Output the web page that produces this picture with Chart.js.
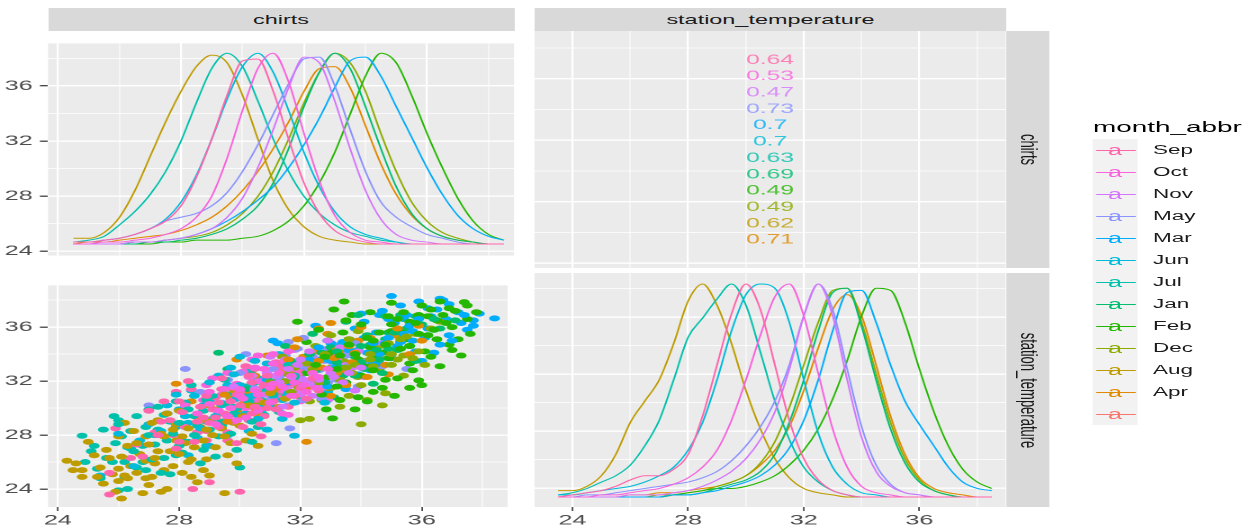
<!DOCTYPE html>
<html><head><meta charset="utf-8">
<script src="https://cdn.jsdelivr.net/npm/chart.js@4.4.1/dist/chart.umd.min.js"></script>
<style>
html,body{margin:0;padding:0;background:#fff;overflow:hidden;}
body{width:1255px;height:529px;position:relative;font-family:"Liberation Sans",Arial,sans-serif;}
#stage{position:absolute;left:0;top:0;height:529px;transform-origin:0 0;}
#stage > *{position:absolute;}
.strip{background:#D9D9D9;color:#1A1A1A;font-size:13px;display:flex;align-items:center;justify-content:center;white-space:nowrap;overflow:visible;}
.vtext{transform:rotate(90deg);display:inline-block;}
.lrow{position:absolute;left:0;width:100%;height:22px;}
</style></head><body><div id="stage"></div>
<script>
// ---------------- data ----------------
const months = ["Sep","Oct","Nov","May","Mar","Jun","Jul","Jan","Feb","Dec","Aug","Apr"];
const monthColors = ["#FF65AC","#F962DD","#D575FE","#8B93FF","#00ACFC","#00BBDA","#00C1AB","#00BE70","#24B700","#8CAB00","#BE9C00","#E18A00"];
const blankLevelColor = "#F8766D";
const corrLabels = ["0.64","0.53","0.47","0.73","0.7","0.7","0.63","0.69","0.49","0.49","0.62","0.71"];
const stripCols = ["chirts","station_temperature"];
const tickLabelsMajor = [24,28,32,36];

const chirtsGrid = [24.5,25,25.5,26,26.5,27,27.5,28,28.5,29,29.5,30,30.5,31,31.5,32,32.5,33,33.5,34,34.5,35,35.5,36,36.5,37,37.5,38,38.5];
const stationGrid = [23.5,24,24.5,25,25.5,26,26.5,27,27.5,28,28.5,29,29.5,30,30.5,31,31.5,32,32.5,33,33.5,34,34.5,35,35.5,36,36.5,37,37.5,38,38.5];

// chirts density (scaled 0..1) per month
const chDenSep = [.01,.01,.02,.03,.05,.08,.12,.2,.35,.55,.78,.96,.97,.8,.55,.32,.16,.07,.03,.01,0,0,0,0,0,0,0,0,0];
const chDenOct = [0,0,.01,.01,.02,.03,.05,.08,.14,.25,.45,.7,.92,1.0,.85,.58,.33,.15,.06,.02,.01,0,0,0,0,0,0,0,0];
const chDenNov = [0,0,0,0,.01,.01,.02,.03,.05,.08,.14,.24,.4,.6,.82,.98,.95,.75,.5,.28,.13,.05,.02,.01,0,0,0,0,0];
const chDenMay = [.01,.01,.02,.03,.05,.08,.12,.14,.16,.2,.27,.38,.52,.68,.84,.97,.98,.83,.6,.38,.22,.14,.09,.05,.03,.01,0,0,0];
const chDenMar = [0,0,0,0,.01,.01,.02,.03,.05,.08,.12,.17,.23,.3,.4,.52,.66,.82,.96,.98,.88,.72,.56,.4,.26,.15,.08,.04,.02];
const chDenJun = [.01,.01,.02,.03,.05,.08,.13,.22,.36,.55,.76,.93,1.0,.9,.7,.48,.3,.17,.09,.05,.03,.01,0,0,0,0,0,0,0];
const chDenJul = [.01,.02,.04,.1,.17,.26,.38,.54,.74,.92,1.0,.93,.75,.55,.38,.25,.16,.1,.06,.04,.02,.01,0,0,0,0,0,0,0];
const chDenJan = [0,0,0,0,0,.01,.01,.02,.03,.05,.08,.13,.2,.32,.5,.72,.9,1.0,.92,.72,.5,.3,.16,.08,.04,.02,.01,0,0];
const chDenFeb = [0,0,0,0,0,0,.01,.01,.02,.02,.02,.03,.04,.07,.12,.2,.32,.48,.68,.88,1.0,.95,.78,.58,.4,.24,.12,.05,.02];
const chDenDec = [0,0,0,0,.01,.01,.02,.03,.04,.06,.1,.16,.25,.38,.55,.74,.9,1.0,.95,.8,.58,.38,.22,.12,.06,.03,.01,0,0];
const chDenAug = [.03,.03,.06,.14,.28,.46,.64,.8,.93,.99,.95,.78,.55,.33,.18,.09,.04,.02,.01,0,0,0,0,0,0,0,0,0,0];
const chDenApr = [0,.01,.01,.02,.03,.04,.05,.07,.1,.14,.2,.28,.38,.5,.64,.8,.92,.93,.82,.62,.42,.26,.15,.08,.04,.02,.01,0,0];

// station_temperature density (scaled 0..1) per month
const stDenSep = [0,.01,.02,.03,.05,.08,.1,.1,.13,.2,.38,.62,.86,1.0,.88,.62,.36,.18,.08,.03,.01,0,0,0,0,0,0,0,0,0,0];
const stDenOct = [0,0,0,.01,.01,.02,.03,.04,.06,.09,.14,.22,.36,.55,.76,.94,1.0,.85,.58,.32,.14,.05,.02,.01,0,0,0,0,0,0,0];
const stDenNov = [0,0,0,0,0,.01,.01,.01,.02,.03,.05,.08,.12,.18,.27,.4,.6,.85,1.0,.85,.55,.28,.12,.05,.02,.01,0,0,0,0,0];
const stDenMay = [0,0,.01,.01,.02,.03,.04,.05,.06,.07,.09,.12,.17,.24,.33,.45,.62,.85,1.0,.88,.6,.33,.15,.06,.02,.01,0,0,0,0,0];
const stDenMar = [0,0,0,0,0,0,0,0,.01,.01,.02,.03,.05,.07,.1,.15,.23,.36,.55,.78,.96,.97,.82,.62,.45,.34,.24,.14,.07,.04,.03];
const stDenJun = [.01,.01,.02,.03,.04,.05,.07,.1,.14,.22,.35,.55,.78,.95,1.0,.98,.82,.55,.3,.14,.06,.02,.01,0,0,0,0,0,0,0,0];
const stDenJul = [.01,.02,.04,.07,.1,.15,.24,.36,.55,.75,.84,.93,1.0,.9,.68,.45,.27,.14,.07,.03,.01,0,0,0,0,0,0,0,0,0,0];
const stDenJan = [0,0,0,0,0,0,0,0,.01,.01,.02,.04,.06,.08,.12,.2,.35,.55,.78,.96,.98,.8,.55,.32,.16,.07,.03,.01,0,0,0];
const stDenFeb = [0,0,0,0,0,0,0,0,.01,.02,.03,.04,.04,.05,.07,.1,.15,.22,.32,.46,.64,.85,.98,.97,.82,.6,.4,.24,.13,.07,.04];
const stDenDec = [0,0,0,0,0,0,0,.01,.01,.02,.03,.05,.07,.1,.16,.26,.42,.62,.82,.97,.98,.82,.58,.35,.18,.08,.03,.01,0,0,0];
const stDenAug = [.03,.03,.05,.1,.2,.35,.45,.55,.72,.92,1.0,.9,.72,.5,.32,.18,.09,.04,.02,.01,0,0,0,0,0,0,0,0,0,0,0];
const stDenApr = [0,0,0,0,0,.01,.01,.02,.02,.03,.04,.05,.07,.1,.15,.22,.33,.5,.7,.88,.95,.85,.62,.38,.2,.09,.04,.02,.01,0,0];

// scatter points [chirts, station_temperature]
const ptsSep = [[25.7,23.6],[28.45,24.0],[29.0,24.5],[30.0,23.8],[25.7,25.2],[25.9,28.5],[28.3,32.0],[28.4,31.4],[27.5,30.5],[28.2,28.6],[28.8,29.3],[29.2,30.8],[29.5,29.6],[29.8,31.5],[30.0,30.2],[30.3,29.1],[30.4,31.9],[30.6,30.6],[30.9,32.4],[31.0,31.2],[31.2,29.9],[31.5,32.0],[31.8,30.9],[29.6,28.2],[30.7,28.8],[31.3,33.0],[32.0,31.5],[28.9,27.6],[27.9,27.0],[29.4,32.2],[30.2,33.1],[31.9,32.8],[32.4,32.2],[27.4,29.0],
  [29.1,29.9],[29.3,28.6],[29.7,30.5],[30.1,29.4],[30.5,30.1],[30.8,29.4],[29.9,31.0],[30.6,31.4],[31.1,30.5],[31.4,31.3],[29.0,28.9],[28.6,28.2],[28.7,30.1],[29.4,31.4],[30.3,32.4],[31.6,30.1],[32.2,30.7],[27.8,28.0],[28.1,29.7],[29.6,27.6],[30.9,30.0],[31.7,31.8],[29.2,29.3],[30.5,32.9],[28.9,30.9],[27.2,28.2],[30.1,28.6],[31.2,33.4],[32.6,31.3],[29.8,29.0],[28.5,27.5],[27.0,27.3],[30.7,27.9],[26.8,26.4],[28.0,30.5],
  [26.6,27.3],[27.3,28.0],[27.7,29.1],[28.0,27.5],[28.3,29.9],[28.6,29.0],[28.9,28.3],[29.3,30.4],[29.6,29.3],[30.0,31.2],[30.4,29.6],[30.8,31.7],[31.2,30.9],[27.0,29.8],[26.4,26.3],[29.9,27.4],[27.9,31.2]];
const ptsOct = [[29.0,30.3],[29.4,31.0],[29.7,30.0],[29.9,31.8],[30.1,30.7],[30.3,32.3],[30.5,31.3],[30.6,29.8],[30.8,32.9],[30.9,31.0],[31.0,30.4],[31.2,32.0],[31.4,31.6],[31.5,33.4],[31.7,30.9],[31.9,32.5],[32.1,31.7],[32.3,33.0],[30.2,29.3],[29.6,32.6],[28.6,29.6],[31.6,29.5],[32.6,32.3],[30.4,33.6],[31.1,34.0],[28.9,31.7],[29.2,28.8],[32.8,33.6],[30.0,30.9],[31.3,30.7],
  [30.0,31.4],[30.3,30.1],[30.6,31.0],[30.7,32.0],[31.0,31.5],[31.2,30.8],[31.3,32.6],[31.5,31.2],[31.8,31.9],[32.0,30.5],[30.5,33.0],[29.8,30.6],[29.3,29.8],[29.5,31.4],[32.4,32.6],[31.9,33.3],[31.1,33.3],[30.1,32.7],[32.2,31.2],[30.8,30.1],[29.9,29.1],[28.8,30.6],[32.9,32.9],[33.2,33.8],[31.6,34.2],[29.1,32.2],[31.4,29.6],[30.2,30.0],[31.7,32.4],[30.9,32.2],
  [29.6,29.4],[30.4,30.6],[31.1,31.8],[31.8,32.9],[29.0,31.2],[30.6,33.9],[32.5,31.5],[28.2,30.2]];
const ptsNov = [[30.5,31.4],[30.9,32.6],[31.3,31.9],[31.5,33.1],[31.7,32.3],[31.9,31.2],[32.0,33.6],[32.2,32.7],[32.3,31.8],[32.5,33.3],[32.6,32.1],[32.8,34.0],[33.0,32.6],[33.2,33.5],[33.4,31.9],[33.7,33.0],[31.1,30.5],[31.8,34.3],[30.2,33.1],[33.9,34.2],[32.4,30.9],[34.3,33.4],[29.8,31.6],[32.9,35.0],[31.4,30.1],[32.7,32.9],[31.0,33.8],[34.1,32.3],
  [31.2,32.4],[31.6,31.6],[32.1,32.1],[32.4,33.0],[32.0,31.0],[32.7,31.5],[33.1,32.3],[33.5,33.2],[32.3,34.2],[31.5,33.6],[30.8,31.0],[33.3,34.5],[34.0,33.0],[32.9,30.6],[31.9,33.2],[30.6,32.0],[33.8,31.3],[34.5,34.0],
  [31.6,32.9],[32.6,33.6],[33.6,32.6],[31.2,31.3],[30.4,32.4],[34.7,34.8]];
const ptsMay = [[28.2,32.9],[27.0,30.2],[31.2,27.4],[31.65,28.5],[32.1,35.2],[35.5,32.9],[30.2,34.0],[30.8,31.9],[31.1,32.9],[31.4,31.3],[31.7,33.4],[32.0,32.4],[32.2,31.5],[32.4,33.8],[32.6,32.8],[32.9,31.9],[33.1,33.3],[33.4,32.6],[33.6,34.1],[31.0,30.6],[30.5,33.0],[33.9,31.6],[34.2,33.5],[29.9,31.2],[32.7,30.7],[33.3,34.7],[31.9,34.4],[34.5,34.3],
  [31.3,32.3],[31.8,31.8],[32.3,32.9],[32.5,31.6],[32.8,33.5],[31.5,33.9],[30.9,33.3],[33.2,32.1],[33.6,33.2],[30.4,31.7],[32.1,30.6],[31.0,31.3],[33.8,34.8],[29.4,30.4],[34.7,33.1],[32.9,34.4],[30.0,32.6],[31.6,34.9],
  [30.3,30.6],[31.2,31.9],[32.0,33.1],[32.8,32.2],[33.5,33.9],[29.6,32.1],[28.7,31.2],[31.6,30.2]];
const ptsMar = [[35.0,38.3],[36.6,38.1],[38.4,36.65],[37.7,36.5],[37.7,36.1],[32.5,36.1],[31.1,35.0],[31.25,34.8],[35.4,35.5],[36.2,37.4],[37.0,35.0],[34.9,36.6],[35.6,36.1],[36.4,35.8],[33.6,34.3],[34.1,35.2],[34.6,34.0],[35.2,34.6],[33.2,33.1],[33.9,32.5],[34.4,33.4],[32.8,32.2],[35.8,34.2],[36.8,36.6],[32.3,33.6],[33.0,34.8],[34.0,37.0],[36.0,33.5],[31.6,31.9],[35.3,37.6],[37.2,37.1],[33.5,31.4],
  [34.5,35.6],[35.1,36.3],[35.7,35.0],[36.3,36.8],[36.9,35.4],[34.2,34.1],[34.8,34.8],[33.8,35.9],[35.5,36.9],[37.3,36.3],[36.6,34.7],[33.4,34.9],[34.7,37.2],[37.9,37.0],[36.1,35.2],[35.0,33.7],[33.0,33.5],[34.3,32.8],[32.6,34.5],[36.9,37.7],[37.5,35.8],[35.9,37.9],[34.1,36.4],[33.7,32.6],[32.9,31.6],[36.4,34.1],[35.3,34.9],[34.6,36.9],
  [34.9,35.2],[35.4,36.6],[35.9,36.6],[36.5,37.3],[34.4,34.8],[33.9,34.3],[35.7,35.7],[36.2,35.9],[37.4,36.9],[33.5,33.9],[34.6,33.3],[32.0,33.0],[30.9,32.1],[36.7,38.0]];
const ptsJun = [[31.8,27.95],[28.3,28.9],[28.8,30.2],[29.2,29.4],[29.5,31.0],[29.8,30.1],[30.0,31.7],[30.2,29.6],[30.4,30.9],[30.6,32.2],[30.8,30.3],[31.0,31.5],[31.2,29.9],[31.4,32.6],[31.6,31.1],[31.9,32.0],[32.2,30.7],[32.5,31.9],[29.0,31.9],[30.3,28.3],[33.0,32.9],[27.6,29.6],[29.7,33.0],[31.3,34.0],[32.8,30.4],[28.6,27.8],[30.9,33.3],[33.3,34.6],[27.9,31.0],
  [29.4,30.2],[29.9,30.7],[30.1,30.3],[30.5,31.4],[30.7,29.7],[31.1,30.9],[31.5,31.8],[29.6,29.0],[28.9,29.0],[28.5,30.9],[30.3,32.8],[31.8,30.4],[32.1,31.6],[32.4,32.6],[29.3,32.4],[27.4,28.3],[28.1,27.6],[29.6,28.0],[31.4,29.2],[30.0,33.8],[33.5,33.4],[32.7,33.6],[28.0,29.9],[27.0,28.8],[26.7,27.6],[30.9,28.4],[32.9,31.2],[29.0,27.2],
  [27.2,28.0],[27.6,30.2],[27.9,28.6],[28.2,29.4],[28.4,31.3],[28.7,28.5],[29.0,30.6],[29.3,29.6],[29.6,31.7],[29.9,29.5],[30.2,30.8],[30.6,29.2],[31.0,30.2],[31.4,30.6],[26.4,27.0],[26.0,28.1],[25.4,25.0],[26.5,25.7],[28.3,26.5],[29.8,32.5],[31.9,33.3],[30.5,33.5]];
const ptsJul = [[24.8,27.95],[25.3,25.5],[25.4,24.8],[25.85,29.4],[26.3,24.0],[26.1,27.9],[26.5,26.8],[26.9,28.6],[27.2,27.3],[27.5,29.5],[27.8,28.1],[28.1,26.7],[28.3,29.9],[28.6,28.7],[28.9,30.6],[29.1,29.2],[29.3,27.9],[29.6,31.0],[29.9,30.0],[30.2,31.6],[30.4,29.0],[30.7,30.6],[31.0,32.0],[31.3,30.9],[30.0,25.6],[29.2,26.4],[27.0,29.9],[32.0,31.4],[28.4,31.7],[26.6,25.6],[31.6,33.2],
  [25.6,26.3],[25.9,27.4],[26.2,26.0],[26.4,28.3],[26.8,27.2],[27.1,26.2],[27.3,28.4],[27.6,27.6],[27.9,26.5],[28.0,28.9],[28.3,27.5],[28.5,29.4],[28.8,26.9],[29.0,28.4],[29.4,29.0],[29.7,28.1],[30.0,29.4],[30.3,30.5],[30.6,28.6],[30.9,31.3],[29.5,32.1],[27.4,25.2],[26.0,29.1],[28.7,25.9],[31.3,29.7],[25.1,26.8],[30.5,31.9],[31.8,32.4],[26.9,25.4],[29.9,26.9],[32.3,33.0],[27.9,30.5],
  [25.2,27.2],[25.5,28.4],[25.8,26.0],[26.0,28.8],[26.3,27.1],[26.6,29.4],[26.8,26.0],[27.0,28.0],[27.3,30.1],[27.5,26.3],[27.7,29.0],[28.0,27.2],[28.2,30.4],[28.5,28.0],[28.8,29.8],[29.1,30.9],[29.4,28.7],[29.8,29.6],[30.1,30.9],[30.4,27.5],[26.2,24.9],[27.7,25.1],[28.9,27.2],[29.5,30.3],[24.9,26.0],[26.0,23.9],[30.8,29.5],[31.1,31.0]];
const ptsJan = [[29.3,34.1],[31.3,32.1],[31.7,33.5],[32.0,32.6],[32.3,34.0],[32.6,33.0],[32.8,31.9],[33.0,34.5],[33.2,33.4],[33.4,32.4],[33.6,35.1],[33.8,33.8],[34.1,32.9],[34.3,34.7],[34.6,33.6],[34.9,35.6],[35.2,34.3],[35.5,35.9],[31.9,30.9],[33.1,30.8],[34.4,31.8],[32.4,35.5],[35.8,33.5],[30.8,31.4],[36.2,35.4],[33.5,36.4],[31.5,34.6],[34.8,36.8],
  [32.5,32.8],[33.0,33.9],[33.3,33.0],[33.7,34.2],[34.0,33.4],[34.2,35.4],[34.5,34.3],[34.8,35.1],[35.1,35.6],[32.2,33.2],[31.8,32.3],[33.4,31.7],[35.6,34.6],[36.0,36.2],[34.7,32.6],[32.9,35.0],[36.6,35.9],[35.3,36.9],[33.9,36.9],[32.6,31.4],[30.4,32.5],[37.1,36.5],
  [33.2,34.2],[33.6,33.0],[34.0,34.6],[34.4,34.0],[34.9,34.4],[35.3,35.3],[32.7,34.1],[32.1,31.4],[36.4,36.6],[35.8,36.8],[33.8,32.4],[31.2,33.3],[30.2,31.4],[29.6,32.9]];
const ptsFeb = [[37.4,37.85],[33.44,37.9],[33.1,37.3],[31.9,36.4],[33.8,29.9],[35.9,32.05],[34.2,30.5],[33.06,29.24],[32.85,29.9],[34.4,31.2],[35.1,30.9],[36.0,37.6],[37.6,35.5],[36.9,34.7],[32.5,33.2],[33.0,34.1],[33.4,35.6],[33.7,33.3],[34.0,36.2],[34.3,34.5],[34.6,35.6],[34.9,33.7],[35.2,36.6],[35.5,35.1],[35.8,36.3],[36.1,34.2],[36.4,35.8],[36.7,36.9],[37.0,36.0],[34.0,32.4],[34.8,32.1],[35.6,33.3],[33.2,31.6],[32.2,34.9],[37.3,33.9],[36.3,37.3],
  [34.2,35.2],[34.5,33.8],[34.8,34.7],[35.0,35.7],[35.3,34.4],[35.6,36.4],[35.9,35.5],[36.2,36.8],[36.5,35.1],[36.8,36.3],[37.1,37.2],[37.5,36.6],[33.6,34.7],[33.9,33.6],[33.3,33.9],[32.9,32.3],[33.5,36.5],[34.3,37.1],[35.4,37.1],[36.6,37.9],[37.8,37.1],[35.7,32.8],[36.3,33.8],[34.7,31.5],[33.9,30.8],[32.6,35.8],[37.0,34.3],[35.0,37.8],[32.7,31.0],[36.0,31.7],
  [33.2,32.9],[33.5,31.9],[33.8,34.0],[34.1,33.2],[34.4,35.0],[34.7,34.1],[35.0,36.2],[35.3,35.6],[35.6,34.6],[35.9,36.9],[36.2,35.4],[36.5,36.5],[36.9,37.4],[37.2,35.1],[34.4,32.8],[35.2,32.2],[36.6,33.1],[33.7,36.9],[32.8,33.8],[33.3,30.6],[35.6,31.5],[37.5,37.6],[34.9,36.8],[32.2,32.6]];
const ptsDec = [[34.0,28.8],[32.0,29.1],[32.3,29.2],[31.2,31.3],[31.6,32.5],[31.9,31.6],[32.2,33.3],[32.5,32.3],[32.8,34.0],[33.0,33.0],[33.3,32.1],[33.5,34.4],[33.8,33.2],[34.0,31.7],[34.3,34.0],[34.6,32.9],[34.9,34.8],[35.2,33.6],[35.5,35.3],[32.7,30.6],[33.6,30.9],[31.4,33.8],[35.9,34.2],[30.6,30.4],[36.3,35.9],[33.9,35.7],[34.8,31.1],[35.4,32.4],
  [32.4,32.8],[32.9,33.6],[33.2,32.8],[33.4,33.5],[33.7,32.6],[34.1,33.5],[34.4,33.1],[34.7,34.1],[35.0,33.2],[32.1,31.9],[31.8,33.0],[33.0,31.5],[35.3,35.1],[35.8,35.5],[33.6,35.1],[32.5,34.6],[31.0,31.9],[34.2,30.6],[36.1,33.2],[36.6,36.4],
  [32.6,31.9],[33.1,32.4],[33.5,33.0],[33.9,32.3],[34.3,33.6],[34.6,34.6],[35.0,34.0],[35.4,33.9],[31.7,31.2],[32.3,30.5],[33.3,30.1],[34.7,30.2],[35.7,33.7],[33.0,35.4],[31.5,32.0],[30.9,30.0]];
const ptsAug = [[24.3,26.1],[24.6,25.9],[24.8,24.9],[24.8,25.4],[26.8,23.7],[29.5,23.7],[27.6,24.0],[26.1,23.3],[25.2,26.5],[25.6,26.9],[26.2,25.0],[26.3,24.8],[26.0,25.5],[26.7,26.6],[27.0,27.3],[27.2,25.9],[27.4,28.1],[27.7,26.8],[27.9,27.6],[28.1,25.2],[28.3,28.5],[28.5,27.1],[28.7,29.1],[28.9,26.2],[29.1,28.0],[29.4,29.6],[29.7,27.4],[30.0,28.7],[30.3,30.2],[28.0,29.8],[26.5,28.3],[27.3,29.1],[29.0,25.0],[30.6,29.5],[31.0,31.1],[29.8,31.3],[26.9,24.8],[28.4,24.9],
  [25.4,25.6],[25.8,25.1],[26.1,26.4],[26.4,25.7],[26.6,27.4],[26.9,26.1],[27.1,24.9],[27.3,26.8],[27.5,27.9],[27.8,25.7],[28.0,26.6],[28.2,27.4],[28.4,26.2],[28.6,28.2],[28.8,27.6],[29.0,29.0],[29.2,27.1],[29.4,28.5],[29.6,26.5],[29.9,29.8],[27.6,29.6],[26.0,27.9],[25.5,24.4],[27.0,24.3],[28.8,25.4],[30.2,27.6],[30.8,30.4],[31.3,32.0],[30.4,28.1],[27.9,28.8],[25.0,27.5],[29.7,30.7],
  [25.3,24.9],[25.7,26.3],[26.0,24.6],[26.3,27.2],[26.6,25.2],[26.9,27.9],[27.2,26.3],[27.5,25.4],[27.8,28.4],[28.1,27.9],[28.3,26.0],[28.6,29.0],[28.9,28.4],[29.2,29.9],[29.5,27.9],[29.8,28.9],[30.1,29.4],[26.2,28.9],[27.1,28.9],[24.5,25.4],[25.9,23.8],[28.6,24.5],[29.9,25.9],[30.6,27.2],[31.5,30.7],[27.4,23.8]];
const ptsApr = [[27.9,31.8],[32.2,27.5],[29.0,30.2],[29.9,33.6],[30.5,32.4],[30.9,33.9],[31.2,31.5],[31.5,32.8],[31.8,34.5],[32.0,33.3],[32.3,31.9],[32.5,34.2],[32.7,33.0],[32.9,35.5],[33.2,32.6],[33.4,34.1],[33.7,33.4],[33.9,35.0],[34.2,32.3],[34.5,34.4],[34.8,33.2],[35.1,35.4],[33.0,30.9],[31.3,30.1],[35.6,34.0],[30.2,31.2],[34.0,36.0],[32.6,35.9],[36.0,35.0],[28.7,28.6],
  [31.0,32.0],[31.4,33.2],[31.7,32.5],[32.1,33.8],[32.4,32.9],[32.8,34.0],[33.1,33.7],[33.3,32.8],[33.6,34.6],[33.9,33.6],[34.3,35.2],[34.6,33.7],[32.2,31.5],[30.6,31.1],[31.9,35.1],[35.3,34.9],[33.5,31.7],[30.1,30.3],[35.9,36.1],[33.0,36.3],[29.5,31.0],[34.9,32.5],
  [31.6,33.6],[32.0,32.6],[32.6,33.5],[33.2,34.3],[33.8,34.1],[34.1,33.0],[31.1,31.1],[32.9,31.5],[35.2,35.9],[30.5,30.0],[29.6,29.0],[28.4,30.5]];

// ---------------- assembly ----------------
const chDens = [chDenSep,chDenOct,chDenNov,chDenMay,chDenMar,chDenJun,chDenJul,chDenJan,chDenFeb,chDenDec,chDenAug,chDenApr];
const stDens = [stDenSep,stDenOct,stDenNov,stDenMay,stDenMar,stDenJun,stDenJul,stDenJan,stDenFeb,stDenDec,stDenAug,stDenApr];
const pts = [ptsSep,ptsOct,ptsNov,ptsMay,ptsMar,ptsJun,ptsJul,ptsJan,ptsFeb,ptsDec,ptsAug,ptsApr];
const scatterTopOrder = ["Oct","Sep","Feb","Aug","Nov","Dec","Jul","Apr","Jan","Jun","Mar","May"];

const SX = 1.8; // horizontal stretch of the whole figure
const CH_MIN = 23.675, CH_MAX = 38.83;      // chirts as x
const CH_YMIN = 23.675, CH_YMAX = 39.09;    // chirts as y
const ST_MIN = 22.69, ST_MAX = 38.98;       // station as x
const ST_YMIN = 22.67, ST_YMAX = 39.09;     // station as y

Chart.defaults.font.family = "'Liberation Sans', Arial, sans-serif";
const stage = document.getElementById('stage');
stage.style.width = (1255 / SX) + 'px';
stage.style.transform = 'scale(' + SX + ',1)';

function place(el, xPage, y, wPage, h) {
  el.style.left = (xPage / SX) + 'px'; el.style.top = y + 'px';
  el.style.width = (wPage / SX) + 'px'; el.style.height = h + 'px';
  stage.appendChild(el); return el;
}

const panelBg = { id: 'panelBg', beforeDraw(chart) {
  const a = chart.chartArea, ctx = chart.ctx;
  ctx.save(); ctx.fillStyle = '#EBEBEB';
  ctx.fillRect(a.left, a.top, a.right - a.left, a.bottom - a.top); ctx.restore();
}};

const isMajor = c => c.tick && Math.abs(c.tick.value % 4) < 1e-6;

function axisX(min, max, labels) {
  return { type: 'linear', position: 'bottom', min, max,
    ticks: { display: labels, stepSize: 2, autoSkip: false, includeBounds: false, maxRotation: 0,
      callback: v => (tickLabelsMajor.includes(v) ? String(v) : ''), color: '#4D4D4D', font: { size: 14 }, padding: 1 },
    grid: { color: '#FFFFFF', lineWidth: c => isMajor(c) ? 1.1 : 0.5, drawTicks: labels, tickLength: 4,
      tickColor: c => isMajor(c) ? '#333333' : 'rgba(0,0,0,0)', tickWidth: 0.8 },
    border: { display: false },
    afterFit(s) { s.height = labels ? 22 : 0; } };
}
function axisY(min, max, labels) {
  return { type: 'linear', position: 'left', min, max,
    ticks: { display: labels, stepSize: 2, autoSkip: false, includeBounds: false,
      callback: v => (tickLabelsMajor.includes(v) ? String(v) : ''), color: '#4D4D4D', font: { size: 14 }, padding: 4 },
    grid: { color: '#FFFFFF', lineWidth: c => isMajor(c) ? 1.4 : 0.7, drawTicks: labels, tickLength: 4.5,
      tickColor: c => isMajor(c) ? '#333333' : 'rgba(0,0,0,0)', tickWidth: 1.2 },
    border: { display: false },
    afterFit(s) { s.width = labels ? 48 / SX : 0; } };
}

function makeChart(xPage, y, wPage, h, scales, datasets, extraPlugins) {
  const wl = wPage / SX, wi = Math.ceil(wl);
  const c = document.createElement('canvas');
  c.width = wi; c.height = h;
  c.style.left = (xPage / SX) + 'px'; c.style.top = y + 'px';
  stage.appendChild(c);
  return new Chart(c, { type: 'scatter', data: { datasets },
    options: { responsive: false, devicePixelRatio: 2, animation: false, events: [],
      layout: { padding: { left: 0, top: 0, bottom: 0, right: wi - wl } },
      plugins: { legend: { display: false }, tooltip: { enabled: false } }, scales },
    plugins: [panelBg].concat(extraPlugins || []) });
}

function densitySets(grid, dens) {
  return dens.map((vals, i) => ({ data: grid.map((x, j) => ({ x, y: vals[j] })), yAxisID: 'yd',
    showLine: true, pointRadius: 0, borderColor: monthColors[i], borderWidth: 1,
    cubicInterpolationMode: 'monotone', fill: false }));
}

// top-left: chirts density
makeChart(0, 31, 514, 237, {
  x: axisX(CH_MIN, CH_MAX, false), y: axisY(CH_YMIN, CH_YMAX, true),
  yd: { type: 'linear', display: false, min: -13 / 213, max: 1 + 11 / 213 } }, densitySets(chirtsGrid, chDens));

// bottom-right: station density
makeChart(535, 273, 471, 256, {
  x: axisX(ST_MIN, ST_MAX, true), y: axisY(ST_YMIN, ST_YMAX, false),
  yd: { type: 'linear', display: false, min: -10 / 213, max: 1 + 11 / 213 } }, densitySets(stationGrid, stDens));

// bottom-left: scatter (each month split into two interleaved layers so colours mix)
const scatterSets = [];
[0, 1].forEach(layer => {
  months.forEach((m, i) => {
    scatterSets.push({ data: pts[i].filter((p, k) => k % 2 === layer).map(p => ({ x: p[0], y: p[1] })),
      backgroundColor: monthColors[i], borderWidth: 0, pointRadius: 3,
      order: layer * 12 + scatterTopOrder.indexOf(m) });
  });
});
makeChart(0, 273, 514, 256, { x: axisX(CH_MIN, CH_MAX, true), y: axisY(ST_YMIN, ST_YMAX, true) }, scatterSets);

// top-right: correlation text
const corrText = { id: 'corrText', afterDatasetsDraw(chart) {
  const ctx = chart.ctx, xs = chart.scales.x, ys = chart.scales.y;
  const top = 37.2, bot = 25.5, n = corrLabels.length;
  ctx.save(); ctx.font = "13.7px 'Liberation Sans', Arial, sans-serif";
  ctx.textAlign = 'center'; ctx.textBaseline = 'middle'; ctx.globalAlpha = 0.8;
  const px = xs.getPixelForValue((xs.min + xs.max) / 2);
  corrLabels.forEach((t, i) => {
    ctx.fillStyle = monthColors[i];
    ctx.fillText(t, px, ys.getPixelForValue(top - i * (top - bot) / (n - 1)));
  });
  ctx.restore();
}};
makeChart(535, 31, 471, 237, { x: axisX(ST_MIN, ST_MAX, false), y: axisY(CH_YMIN, CH_YMAX, false) }, [], [corrText]);

// strips
function strip(xPage, y, wPage, h, text, vertical) {
  const d = document.createElement('div'); d.className = 'strip';
  if (vertical) { const s = document.createElement('span'); s.className = 'vtext'; s.textContent = text; d.appendChild(s); }
  else d.textContent = text;
  return place(d, xPage, y, wPage, h);
}
strip(48, 8, 466, 23, stripCols[0]);
strip(535, 8, 471, 23, stripCols[1]);
strip(1007, 31, 43, 237, stripCols[0], true);
strip(1007, 273, 43, 234, stripCols[1], true);

// legend
const title = document.createElement('div');
title.textContent = 'month_abbr';
title.style.cssText = 'font-size:15.5px;line-height:20px;color:#000;white-space:nowrap;';
place(title, 1093, 117, 160, 20);
const keyBox = document.createElement('div');
keyBox.style.background = '#F2F2F2';
place(keyBox, 1093, 139, 44, 22 * 13);
const legendLevels = months.concat(['']);
const legendColors = monthColors.concat([blankLevelColor]);
legendLevels.forEach((m, i) => {
  const row = document.createElement('div'); row.className = 'lrow'; row.style.top = (i * 22) + 'px';
  const line = document.createElement('div');
  line.style.cssText = 'position:absolute;left:' + (4 / SX) + 'px;width:' + (38 / SX) + 'px;top:10.5px;height:1px;background:' + legendColors[i] + ';';
  const a = document.createElement('div');
  a.textContent = 'a';
  a.style.cssText = 'position:absolute;left:0;width:100%;top:0;height:22px;line-height:22px;text-align:center;font-size:14px;color:' + legendColors[i] + ';';
  row.appendChild(line); row.appendChild(a); keyBox.appendChild(row);
  const lab = document.createElement('div');
  lab.textContent = m;
  lab.style.cssText = 'font-size:12.5px;line-height:22px;color:#1A1A1A;white-space:nowrap;';
  place(lab, 1153, 139 + i * 22, 80, 22);
});
</script></body></html>
